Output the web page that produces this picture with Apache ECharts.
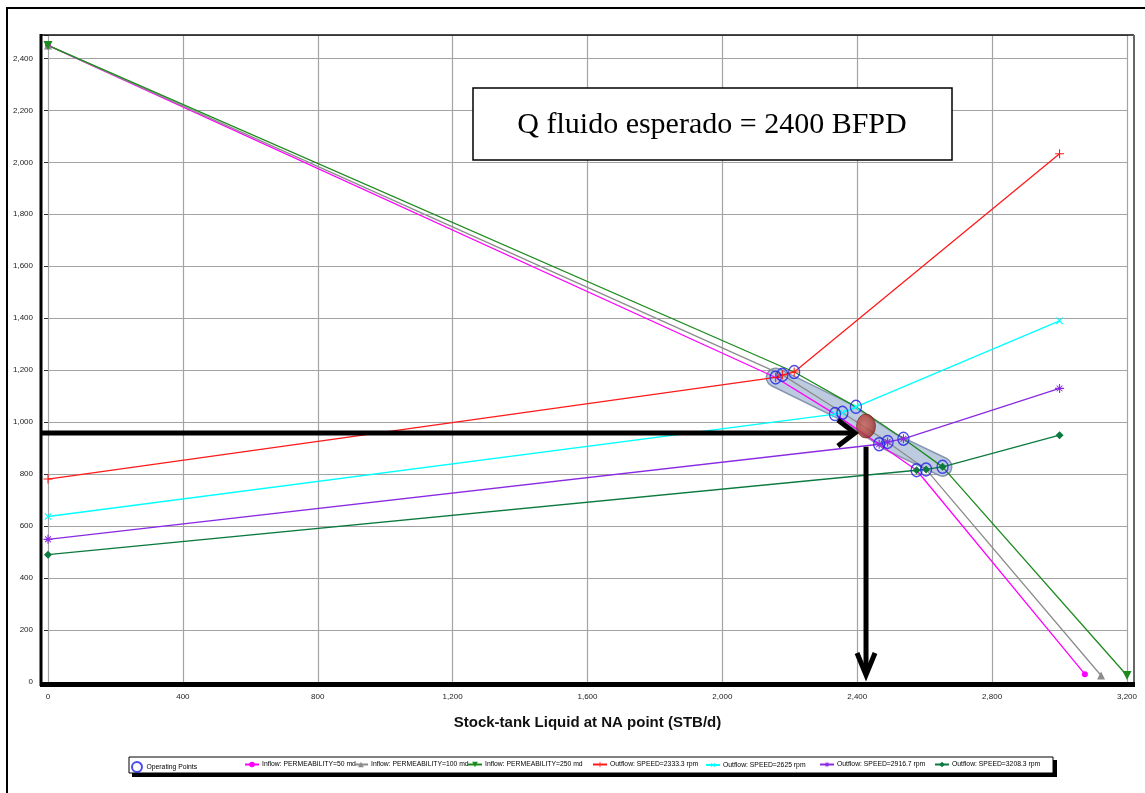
<!DOCTYPE html>
<html>
<head>
<meta charset="utf-8">
<script src="https://cdn.jsdelivr.net/npm/echarts@6/dist/echarts.min.js"></script>
<style>
  html, body { margin: 0; padding: 0; background: #fff; }
  #chart { width: 1145px; height: 793px; }
</style>
</head>
<body>
<div id="chart"></div>
<script>
// ---- data (STB/d, psi) ----
const seriesNames = [
  'Operating Points',
  'Inflow: PERMEABILITY=50 md',
  'Inflow: PERMEABILITY=100 md',
  'Inflow: PERMEABILITY=250 md',
  'Outflow: SPEED=2333.3 rpm',
  'Outflow: SPEED=2625 rpm',
  'Outflow: SPEED=2916.7 rpm',
  'Outflow: SPEED=3208.3 rpm'
];

// operating points of each outflow curve, one per inflow curve (50, 100, 250 md)
const opSpeed2333 = [[2158, 1172], [2178, 1182], [2213, 1193]];
const opSpeed2625 = [[2334, 1031], [2356, 1036], [2396, 1059]];
const opSpeed2917 = [[2465, 915], [2490, 924], [2537, 936]];
const opSpeed3208 = [[2576, 815], [2604, 818], [2653, 828]];

// inflow curves: reservoir pressure at zero rate and end point at highest rate
const inflowStart = [0, 2450];
const inflowEnd50 = [3075, 30];
const inflowEnd100 = [3123, 25];
const inflowEnd250 = [3200, 25];

// outflow curves: zero-rate pressure and end point at 3000 STB/d
const outStart2333 = [0, 781];
const outEnd2333 = [3000, 2033];
const outStart2625 = [0, 637];
const outEnd2625 = [3000, 1390];
const outStart2917 = [0, 549];
const outEnd2917 = [3000, 1130];
const outStart3208 = [0, 490];
const outEnd3208 = [3000, 950];

// expected operating point and guide arrows
const expectedPoint = [2426, 985];
const guideArrowH = { y: 958, xEnd: 2393 };
const guideArrowV = { x: 2426, yStart: 905, yEnd: 27 };
const noteText = 'Q fluido esperado = 2400 BFPD';
const xAxisTitle = 'Stock-tank Liquid at NA point (STB/d)';

// ---- layout & style ----
const GRID = { left: 48, right: 18, top: 35, bottom: 111 };
const FRAME_PAD = { left: 8, right: 7, bottom: 4 };
const NARROW = '"Liberation Sans Narrow", "Liberation Sans", Arial, sans-serif';
const COLORS = ['#1f1fe6', '#ff00ff', '#8c8c8c', '#1c8a1c', '#ff1a1a', '#00ffff', '#8a2be2', '#0b7a3e'];
const LEGEND_LEFT = [131, 244, 353, 467, 592, 705, 819, 934];
const LEGEND_TOP = 761;

const SYM_PLUS = 'path://M4.4,0H5.6V4.4H10V5.6H5.6V10H4.4V5.6H0V4.4H4.4Z';
const SYM_STAR = 'path://M4.4,0H5.6V4.4H10V5.6H5.6V10H4.4V5.6H0V4.4H4.4Z' +
  'M1.4,2.2L2.2,1.4L8.6,7.8L7.8,8.6Z M7.8,1.4L8.6,2.2L2.2,8.6L1.4,7.8Z';
const SYM_RING = 'path://M50,0A50,50,0,1,1,49.99,0Z';

const chart = echarts.init(document.getElementById('chart'), null, { renderer: 'canvas' });

function mean(pts) {
  const n = pts.length;
  return [pts.reduce((s, p) => s + p[0], 0) / n, pts.reduce((s, p) => s + p[1], 0) / n];
}
const opGroups = [opSpeed2333, opSpeed2625, opSpeed2917, opSpeed3208];
const allOps = [].concat(...opGroups);

function inflowData(k, end) {
  const pts = [inflowStart].concat(opGroups.map(g => g[k]), [end]);
  return pts.map((p, i) => (i === 0 || i === pts.length - 1) ? p : { value: p, symbol: 'none' });
}
function outflowData(start, ops, end) {
  return [start].concat(ops, [end]);
}

const bandPath = [opSpeed2333[0], mean(opSpeed2625), mean(opSpeed2917), opSpeed3208[2]];

function lineSeries(name, color, data, symbol, size, extra) {
  return Object.assign({
    name: name,
    type: 'line',
    data: data,
    symbol: symbol,
    symbolSize: size,
    showAllSymbol: true,
    lineStyle: { color: color, width: 1.3 },
    itemStyle: { color: color },
    z: 3,
    silent: true
  }, extra || {});
}

const series = [
  {
    name: 'band-edge', type: 'line', data: bandPath, symbol: 'none', silent: true, z: 1,
    lineStyle: { color: 'rgba(95,115,145,0.75)', width: 20, cap: 'round', join: 'round' }
  },
  {
    name: 'band-fill', type: 'line', data: bandPath, symbol: 'none', silent: true, z: 1,
    lineStyle: { color: '#bccbdf', width: 17, cap: 'round', join: 'round' }
  },
  lineSeries(seriesNames[1], COLORS[1], inflowData(0, inflowEnd50), 'circle', 6),
  lineSeries(seriesNames[2], COLORS[2], inflowData(1, inflowEnd100), 'triangle', 8),
  lineSeries(seriesNames[3], COLORS[3], inflowData(2, inflowEnd250), 'triangle', 9, { symbolRotate: 180 }),
  lineSeries(seriesNames[4], COLORS[4], outflowData(outStart2333, opSpeed2333, outEnd2333), SYM_PLUS, 9),
  lineSeries(seriesNames[5], COLORS[5], outflowData(outStart2625, opSpeed2625, outEnd2625), SYM_PLUS, 9, { symbolRotate: 45 }),
  lineSeries(seriesNames[6], COLORS[6], outflowData(outStart2917, opSpeed2917, outEnd2917), SYM_STAR, 9),
  lineSeries(seriesNames[7], COLORS[7], outflowData(outStart3208, opSpeed3208, outEnd3208), 'diamond', 8),
  {
    name: seriesNames[0], type: 'scatter', data: allOps, symbol: SYM_RING, symbolSize: [11, 13],
    itemStyle: { color: 'rgba(0,0,0,0)', borderColor: COLORS[0], borderWidth: 1.4 },
    z: 5, silent: true
  },
  {
    name: 'expected', type: 'scatter', data: [expectedPoint], symbol: 'circle', symbolSize: [19, 24],
    itemStyle: {
      color: new echarts.graphic.RadialGradient(0.42, 0.45, 0.6, [
        { offset: 0, color: '#c96058' }, { offset: 0.6, color: '#b2423a' }, { offset: 1, color: '#86261f' }
      ]),
      borderColor: '#7a2019', borderWidth: 0.8
    },
    z: 6, silent: true
  }
];

const legends = seriesNames.map((name, i) => ({
  data: [i === 0
    ? { name: name, icon: SYM_RING, itemStyle: { color: 'rgba(0,0,0,0)', borderColor: COLORS[0], borderWidth: 2 } }
    : name],
  left: LEGEND_LEFT[i],
  top: LEGEND_TOP,
  orient: 'horizontal',
  padding: 0,
  itemGap: 0,
  itemWidth: i === 0 ? 13 : 14,
  itemHeight: i === 0 ? 10 : 7,
  selectedMode: false,
  textStyle: { fontSize: 6.8, fontFamily: NARROW, color: '#000', padding: [0, 0, 0, -2] }
}));

const numFmt = v => Number(v).toLocaleString('en-US');

chart.setOption({
  animation: false,
  backgroundColor: '#fff',
  grid: Object.assign({ containLabel: false, outerBoundsMode: 'none' }, GRID),
  legend: legends,
  xAxis: {
    type: 'value', min: 0, max: 3200, interval: 400,
    offset: FRAME_PAD.bottom,
    axisLine: { show: false },
    axisTick: { show: true, length: 4, lineStyle: { color: '#333', width: 1 } },
    minorTick: { show: true, splitNumber: 4, length: 3, lineStyle: { color: '#333', width: 1 } },
    axisLabel: { margin: 7, fontSize: 8, fontFamily: NARROW, color: '#222', formatter: numFmt },
    splitLine: { show: true, lineStyle: { color: '#a3a3a3', width: 1.2 } },
    name: xAxisTitle, nameLocation: 'middle', nameGap: 29,
    nameTextStyle: { fontSize: 15, fontWeight: 'bold', fontFamily: '"Liberation Sans", Arial, sans-serif', color: '#111' }
  },
  yAxis: {
    type: 'value', min: 0, max: 2490, interval: 200,
    offset: FRAME_PAD.left,
    axisLine: { show: false },
    axisTick: { show: true, length: 4, lineStyle: { color: '#333', width: 1 } },
    axisLabel: {
      margin: 7, fontSize: 8, fontFamily: NARROW, color: '#222',
      formatter: v => (v % 200 === 0 ? numFmt(v) : '')
    },
    splitLine: { show: true, lineStyle: { color: '#a3a3a3', width: 1.2 } }
  },
  series: series
});

// ---- frame, note box, legend box and guide arrows ----
const W = chart.getWidth();
const H = chart.getHeight();
const fL = GRID.left - FRAME_PAD.left;
const fR = W - GRID.right + FRAME_PAD.right;
const fT = GRID.top;
const fB = H - GRID.bottom + FRAME_PAD.bottom;

const toPx = p => chart.convertToPixel({ gridIndex: 0 }, p);
const hEnd = toPx([guideArrowH.xEnd, guideArrowH.y]);
const vStart = toPx([guideArrowV.x, guideArrowV.yStart]);
const vEnd = toPx([guideArrowV.x, guideArrowV.yEnd]);

const arrowStyle = { stroke: '#000', lineWidth: 5, fill: null, lineJoin: 'miter', lineCap: 'butt' };

chart.setOption({
  graphic: [
    // outer border (left and top edges)
    { type: 'line', z: 0, shape: { x1: 7, y1: 8, x2: 7, y2: H }, style: { stroke: '#000', lineWidth: 2 } },
    { type: 'line', z: 0, shape: { x1: 6, y1: 8, x2: W, y2: 8 }, style: { stroke: '#000', lineWidth: 2 } },
    // plot frame
    { type: 'line', z: 10, shape: { x1: fL, y1: fT, x2: fR, y2: fT }, style: { stroke: '#111', lineWidth: 1.5 } },
    { type: 'line', z: 10, shape: { x1: fR, y1: fT, x2: fR, y2: fB }, style: { stroke: '#666', lineWidth: 2 } },
    { type: 'line', z: 10, shape: { x1: fL + 1, y1: fT - 1, x2: fL + 1, y2: fB }, style: { stroke: '#000', lineWidth: 3 } },
    { type: 'line', z: 10, shape: { x1: fL, y1: fB - 1.5, x2: fR + 1, y2: fB - 1.5 }, style: { stroke: '#000', lineWidth: 5 } },
    // note box
    {
      type: 'group', z: 20, children: [
        { type: 'rect', shape: { x: 473, y: 88, width: 479, height: 72 }, style: { fill: '#fff', stroke: '#000', lineWidth: 1.5 } },
        {
          type: 'text', x: 712, y: 125,
          style: { text: noteText, fontSize: 30, fontFamily: '"Liberation Serif", "Times New Roman", serif', fill: '#000', align: 'center', verticalAlign: 'middle' }
        }
      ]
    },
    // legend box with drop shadow
    { type: 'rect', z: 0, shape: { x: 132, y: 760, width: 925, height: 17 }, style: { fill: '#000' } },
    { type: 'rect', z: 0, shape: { x: 129, y: 757, width: 924, height: 16 }, style: { fill: '#fff', stroke: '#000', lineWidth: 1 } },
    // horizontal guide arrow
    { type: 'polyline', z: 30, shape: { points: [[fL, hEnd[1]], [hEnd[0] - 3, hEnd[1]]] }, style: arrowStyle },
    { type: 'polyline', z: 30, shape: { points: [[hEnd[0] - 17, hEnd[1] - 13], [hEnd[0], hEnd[1]], [hEnd[0] - 17, hEnd[1] + 13]] }, style: arrowStyle },
    // vertical guide arrow
    { type: 'polyline', z: 30, shape: { points: [[vStart[0], vStart[1]], [vEnd[0], vEnd[1] - 3]] }, style: arrowStyle },
    { type: 'polyline', z: 30, shape: { points: [[vEnd[0] - 9, vEnd[1] - 22], [vEnd[0], vEnd[1]], [vEnd[0] + 9, vEnd[1] - 22]] }, style: arrowStyle }
  ]
});
</script>
</body>
</html>
